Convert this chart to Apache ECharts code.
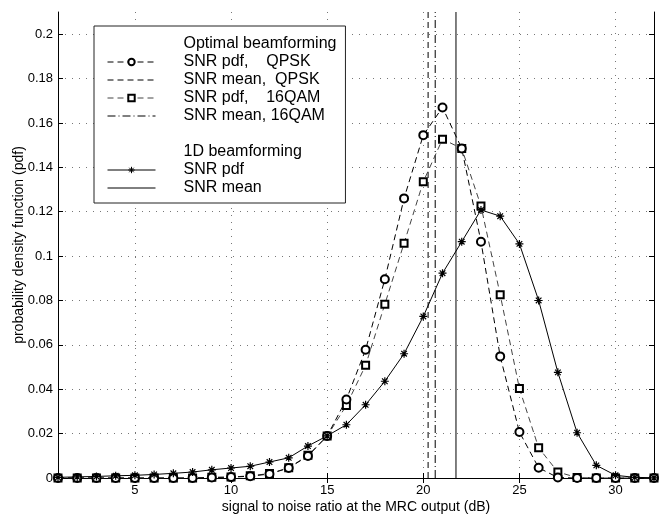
<!DOCTYPE html>
<html>
<head>
<meta charset="utf-8">
<script src="https://cdn.jsdelivr.net/npm/echarts@6/dist/echarts.min.js"></script>
<style>
  html, body { margin: 0; padding: 0; background: #fff; }
  #chart { width: 659px; height: 519px; }
</style>
</head>
<body>
<div id="chart"></div>
<script>
// SNR grid (dB)
const snrDb = [1, 2, 3, 4, 5, 6, 7, 8, 9, 10, 11, 12, 13, 14, 15, 16,
  17, 18, 19, 20, 21, 22, 23, 24, 25, 26, 27, 28, 29, 30, 31, 32];
// optimal beamforming, QPSK
const qpskPdf = [0, 0, 0, 0, 0, 0, 0, 0, 0.0002, 0.0004, 0.0008, 0.0018,
  0.0045, 0.0099, 0.0189, 0.0354, 0.0578, 0.0896, 0.126, 0.1545, 0.167,
  0.1485, 0.1065, 0.0548, 0.0207, 0.0046, 0.0002, 0, 0, 0, 0, 0];
// optimal beamforming, 16QAM
const qamPdf = [0, 0, 0, 0, 0, 0, 0, 0, 0.0003, 0.0004, 0.001, 0.002,
  0.0046, 0.0102, 0.0189, 0.0327, 0.0508, 0.0783, 0.1058, 0.1335, 0.1527,
  0.1485, 0.1226, 0.0826, 0.0403, 0.0136, 0.0027, 0.0002, 0, 0, 0, 0];
// 1D beamforming
const oneDPdf = [0.0003, 0.0005, 0.0007, 0.001, 0.0012, 0.0016, 0.0021,
  0.0027, 0.0037, 0.0045, 0.0053, 0.0072, 0.0091, 0.0144, 0.019, 0.024,
  0.033, 0.0436, 0.056, 0.0728, 0.0923, 0.1065, 0.1208, 0.118, 0.1055,
  0.08, 0.0476, 0.0204, 0.0057, 0.0012, 0.0003, 0.0001];
// mean SNR values (dB)
const qpskMean = 20.25;
const qamMean = 20.62;
const oneDMean = 21.7;

const xTicks = [5, 10, 15, 20, 25, 30];
const yTicks = [0, 0.02, 0.04, 0.06, 0.08, 0.1, 0.12, 0.14, 0.16, 0.18, 0.2];
const xMin = 1, xMax = 32, yMin = 0, yMax = 0.21;

const font = '"Liberation Sans", Arial, sans-serif';
const star = 'path://M5,0L5,10M0,5L10,5M1.5,1.5L8.5,8.5M1.5,8.5L8.5,1.5';
const noMark = 'path://M0,0L10,0L10,10L0,10Z'; // drawn fully transparent

const pairs = (ys) => snrDb.map((x, i) => [x, ys[i]]);
const vline = (x) => [[x, yMin], [x, yMax]];

const chart = echarts.init(document.getElementById('chart'));

const baseX = {
  type: 'value', min: xMin, max: xMax,
  axisLine: { lineStyle: { color: '#000', width: 1 } },
  axisTick: { inside: true, length: 5, customValues: xTicks, lineStyle: { color: '#000' } },
};
const baseY = {
  type: 'value', min: yMin, max: yMax,
  axisLine: { show: true, lineStyle: { color: '#000', width: 1 } },
  axisTick: { show: true, inside: true, length: 5, customValues: yTicks, lineStyle: { color: '#000' } },
};

const meanLine = (name, x, dash) => ({
  name, type: 'line', data: vline(x),
  symbol: noMark, showSymbol: false, symbolSize: 6,
  lineStyle: { color: '#000', width: 1, type: dash },
  itemStyle: { color: 'rgba(0,0,0,0)', borderColor: 'rgba(0,0,0,0)', borderWidth: 0 },
});

const option = {
  animation: false,
  backgroundColor: '#fff',
  grid: { left: 58, right: 5, top: 12, bottom: 37 },
  xAxis: [
    {
      ...baseX,
      position: 'bottom',
      name: 'signal to noise ratio at the MRC output (dB)',
      nameLocation: 'middle',
      nameGap: 22,
      nameMoveOverlap: false,
      nameTextStyle: { fontFamily: font, fontSize: 14, color: '#000' },
      axisLabel: { customValues: xTicks, margin: 6, fontFamily: font, fontSize: 13, color: '#000' },
      splitLine: { show: true, lineStyle: { color: '#777', type: [1, 6], width: 1 } },
    },
    { ...baseX, position: 'top', axisLabel: { show: false }, splitLine: { show: false } },
  ],
  yAxis: [
    {
      ...baseY,
      position: 'left',
      name: 'probability density function (pdf)',
      nameLocation: 'middle',
      nameGap: 32,
      nameMoveOverlap: false,
      nameTextStyle: { fontFamily: font, fontSize: 14, color: '#000' },
      axisLabel: { customValues: yTicks, margin: 5, fontFamily: font, fontSize: 13, color: '#000' },
      splitLine: { show: true, lineStyle: { color: '#777', type: [1, 6], width: 1 } },
    },
    { ...baseY, position: 'right', axisLabel: { show: false }, splitLine: { show: false } },
  ],
  legend: {
    orient: 'vertical',
    left: 94,
    top: 26,
    padding: [10, 9, 7, 13],
    backgroundColor: '#fff',
    borderColor: '#222',
    borderWidth: 1,
    itemWidth: 48,
    itemHeight: 8,
    itemGap: 2,
    selectedMode: false,
    lineStyle: { width: 1 },
    itemStyle: { borderWidth: 1 },
    textStyle: { fontFamily: font, fontSize: 16, color: '#000', padding: [0, 0, 0, 23] },
    data: [
      { name: 'Optimal beamforming', icon: 'none' },
      'SNR pdf,    QPSK',
      'SNR mean,  QPSK',
      'SNR pdf,    16QAM',
      'SNR mean, 16QAM',
      { name: ' ', icon: 'none' },
      { name: '1D beamforming', icon: 'none' },
      'SNR pdf',
      'SNR mean',
    ],
  },
  series: [
    { name: 'Optimal beamforming', type: 'line', data: [] },
    { name: ' ', type: 'line', data: [] },
    { name: '1D beamforming', type: 'line', data: [] },
    meanLine('SNR mean,  QPSK', qpskMean, [6, 4]),
    meanLine('SNR mean, 16QAM', qamMean, [8, 3, 1, 3]),
    meanLine('SNR mean', oneDMean, 'solid'),
    {
      name: 'SNR pdf,    16QAM', type: 'line', data: pairs(qamPdf),
      symbol: 'emptyRect', symbolSize: 7,
      lineStyle: { color: '#444', width: 1, type: [6, 4] },
      itemStyle: { color: '#000', borderWidth: 1 },
    },
    {
      name: 'SNR pdf,    QPSK', type: 'line', data: pairs(qpskPdf),
      symbol: 'emptyCircle', symbolSize: 8,
      lineStyle: { color: '#000', width: 1, type: [6, 4] },
      itemStyle: { color: '#000', borderWidth: 1 },
    },
    {
      name: 'SNR pdf', type: 'line', data: pairs(oneDPdf),
      symbol: star, symbolSize: 8,
      lineStyle: { color: '#000', width: 1 },
      itemStyle: { color: '#000', borderColor: '#000', borderWidth: 1.2 },
    },
  ],
};

chart.setOption(option);
</script>
</body>
</html>
